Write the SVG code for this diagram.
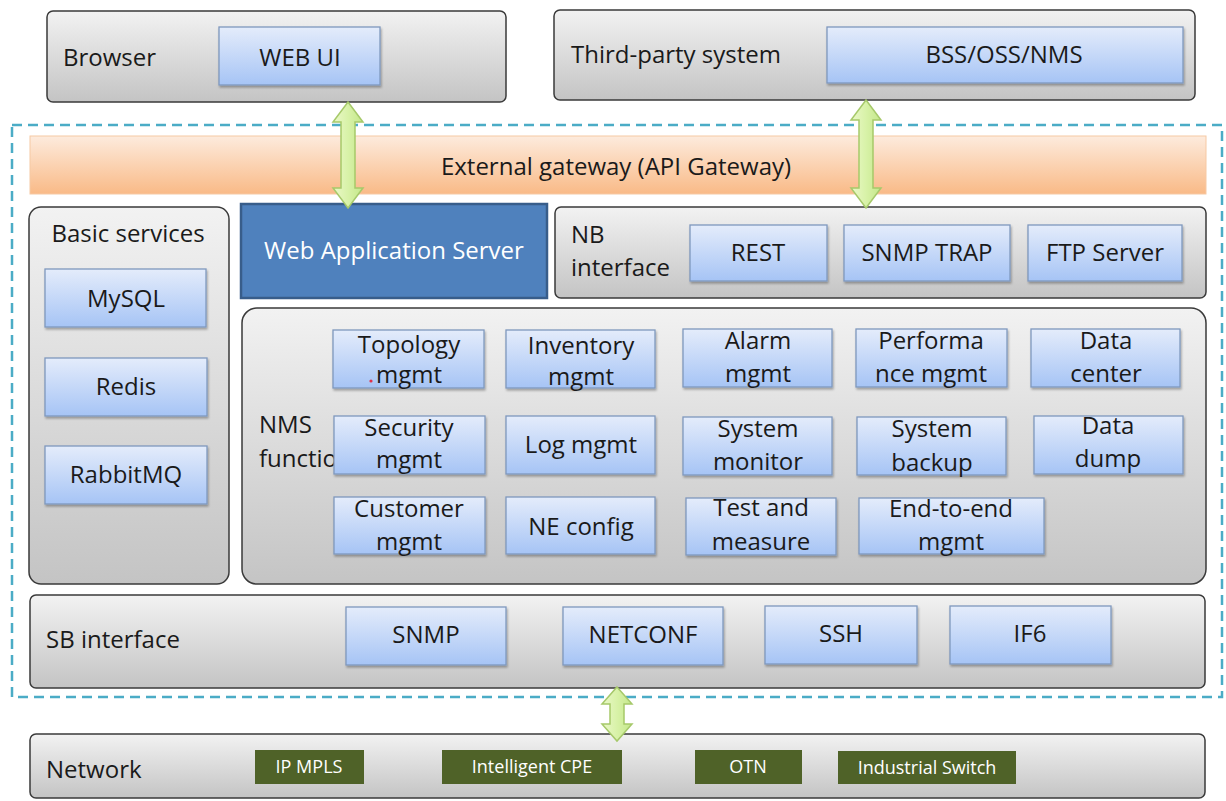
<svg xmlns="http://www.w3.org/2000/svg" width="1226" height="801" viewBox="0 0 1226 801">
<defs>
<linearGradient id="gGray" x1="0" y1="0" x2="0" y2="1"><stop offset="0" stop-color="#F2F2F2"/><stop offset="1" stop-color="#C4C4C4"/></linearGradient>
<linearGradient id="gBlue" x1="0" y1="0" x2="0" y2="1"><stop offset="0" stop-color="#E4ECFB"/><stop offset="1" stop-color="#A6C4F5"/></linearGradient>
<linearGradient id="gOrange" x1="0" y1="0" x2="0" y2="1"><stop offset="0" stop-color="#FDEBDD"/><stop offset="1" stop-color="#F9BA87"/></linearGradient>
<linearGradient id="gGreen" x1="0" y1="0" x2="1" y2="0"><stop offset="0" stop-color="#EAF8C8"/><stop offset="0.5" stop-color="#D8F2A8"/><stop offset="1" stop-color="#C4E78A"/></linearGradient>
<filter id="sh" x="-10%" y="-10%" width="130%" height="140%"><feDropShadow dx="1" dy="2" stdDeviation="1.2" flood-color="#000" flood-opacity="0.3"/></filter>
</defs>
<style>
text{font-family:"Open Sans",Lato,"Liberation Sans",sans-serif;fill:#1a1a1a;font-size:24px}
.c{text-anchor:middle}
.cont{fill:url(#gGray);stroke:#3a3a3a;stroke-width:1.5}
.blue{fill:url(#gBlue);stroke:#7F98BE;stroke-width:1.3;filter:url(#sh)}
.dg{fill:#4F6228}
.dgt{fill:#fff;font-size:18px;text-anchor:middle}
.arr{fill:url(#gGreen);stroke:#A6C96A;stroke-width:1.5}
</style>
<rect x="12" y="125" width="1210" height="572" fill="none" stroke="#4BACC6" stroke-width="2.5" stroke-dasharray="10 6"/>

<g id="browser">
<rect class="cont" x="47" y="11" width="459" height="91" rx="6"/>
<text x="63" y="66">Browser</text>
</g>
<g id="webui">
<rect class="blue" x="219" y="27" width="161" height="58"/>
<text class="c" x="300" y="66">WEB UI</text>
</g>
<g id="thirdparty">
<rect class="cont" x="554" y="10" width="641" height="90" rx="6"/>
<text x="571" y="63">Third-party system</text>
</g>
<g id="bss">
<rect class="blue" x="827" y="27" width="356" height="56"/>
<text class="c" x="1004" y="63">BSS/OSS/NMS</text>
</g>
<g id="gateway">
<rect x="30" y="136" width="1176" height="58" fill="url(#gOrange)" stroke="#F6C9A4" stroke-width="1"/>
<text class="c" x="616" y="175">External gateway (API Gateway)</text>
</g>

<g id="basic">
<rect class="cont" x="29" y="207" width="200" height="377" rx="12"/>
<text class="c" x="128" y="242">Basic services</text>
</g>
<g id="mysql"><rect class="blue" x="45" y="269" width="161" height="58"/><text class="c" x="126" y="307">MySQL</text></g>
<g id="redis"><rect class="blue" x="45" y="358" width="162" height="58"/><text class="c" x="126" y="395">Redis</text></g>
<g id="rabbitmq"><rect class="blue" x="45" y="446" width="162" height="58"/><text class="c" x="126" y="483">RabbitMQ</text></g>

<g id="webapp">
<rect x="241" y="204" width="306" height="94" fill="#4F81BD" stroke="#385D8A" stroke-width="2.5"/>
<text class="c" x="394" y="259" style="fill:#fff">Web Application Server</text>
</g>

<g id="nb">
<rect class="cont" x="555" y="207" width="651" height="91" rx="6"/>
<text x="571" y="243">NB</text>
<text x="571" y="276">interface</text>
</g>
<g id="rest"><rect class="blue" x="690" y="225" width="137" height="56"/><text class="c" x="758" y="261">REST</text></g>
<g id="snmptrap"><rect class="blue" x="844" y="225" width="166" height="56"/><text class="c" x="927" y="261">SNMP TRAP</text></g>
<g id="ftp"><rect class="blue" x="1028" y="225" width="154" height="56"/><text class="c" x="1105" y="261">FTP Server</text></g>

<g id="nms">
<rect class="cont" x="242" y="308" width="964" height="276" rx="15"/>
<text x="259" y="433">NMS</text>
<text x="259" y="467">function</text>
</g>
<g id="topology"><rect class="blue" x="333" y="330" width="151" height="58"/><text class="c" x="409" y="353">Topology</text><text class="c" x="409" y="383">mgmt</text><circle cx="371" cy="381" r="1.6" fill="#E0304A"/></g>
<g id="inventory"><rect class="blue" x="506" y="330" width="149" height="58"/><text class="c" x="581" y="354">Inventory</text><text class="c" x="581" y="385">mgmt</text></g>
<g id="alarm"><rect class="blue" x="683" y="329" width="149" height="58"/><text class="c" x="758" y="349">Alarm</text><text class="c" x="758" y="382">mgmt</text></g>
<g id="performance"><rect class="blue" x="856" y="329" width="151" height="58"/><text class="c" x="931" y="349">Performa</text><text class="c" x="931" y="382">nce mgmt</text></g>
<g id="datacenter"><rect class="blue" x="1031" y="329" width="149" height="58"/><text class="c" x="1106" y="349">Data</text><text class="c" x="1106" y="382">center</text></g>

<g id="security"><rect class="blue" x="334" y="416" width="151" height="58"/><text class="c" x="409" y="436">Security</text><text class="c" x="409" y="468">mgmt</text></g>
<g id="log"><rect class="blue" x="506" y="416" width="149" height="58"/><text class="c" x="581" y="453">Log mgmt</text></g>
<g id="sysmon"><rect class="blue" x="683" y="417" width="149" height="58"/><text class="c" x="758" y="437">System</text><text class="c" x="758" y="470">monitor</text></g>
<g id="backup"><rect class="blue" x="857" y="417" width="149" height="58"/><text class="c" x="932" y="437">System</text><text class="c" x="932" y="471">backup</text></g>
<g id="datadump"><rect class="blue" x="1034" y="416" width="149" height="58"/><text class="c" x="1108" y="434">Data</text><text class="c" x="1108" y="467">dump</text></g>

<g id="customer"><rect class="blue" x="334" y="497" width="151" height="57"/><text class="c" x="409" y="517">Customer</text><text class="c" x="409" y="550">mgmt</text></g>
<g id="neconfig"><rect class="blue" x="506" y="497" width="149" height="57"/><text class="c" x="581" y="535">NE config</text></g>
<g id="test"><rect class="blue" x="686" y="498" width="150" height="57"/><text class="c" x="761" y="516">Test and</text><text class="c" x="761" y="550">measure</text></g>
<g id="e2e"><rect class="blue" x="859" y="498" width="185" height="56"/><text class="c" x="951" y="517">End-to-end</text><text class="c" x="951" y="550">mgmt</text></g>

<g id="sb">
<rect class="cont" x="30" y="595" width="1175" height="93" rx="6"/>
<text x="46" y="648">SB interface</text>
</g>
<g id="snmp"><rect class="blue" x="346" y="607" width="160" height="58"/><text class="c" x="426" y="643">SNMP</text></g>
<g id="netconf"><rect class="blue" x="563" y="607" width="160" height="58"/><text class="c" x="643" y="643">NETCONF</text></g>
<g id="ssh"><rect class="blue" x="765" y="606" width="152" height="58"/><text class="c" x="841" y="642">SSH</text></g>
<g id="if6"><rect class="blue" x="950" y="606" width="161" height="58"/><text class="c" x="1030" y="642">IF6</text></g>

<g id="network">
<rect class="cont" x="30" y="734" width="1175" height="64" rx="6"/>
<text x="46" y="778">Network</text>
</g>
<g id="ipmpls"><rect class="dg" x="255" y="750" width="109" height="34"/><text class="dgt" x="309" y="773">IP MPLS</text></g>
<g id="cpe"><rect class="dg" x="442" y="750" width="180" height="34"/><text class="dgt" x="532" y="773">Intelligent CPE</text></g>
<g id="otn"><rect class="dg" x="695" y="750" width="107" height="34"/><text class="dgt" x="748" y="773">OTN</text></g>
<g id="switch"><rect class="dg" x="838" y="751" width="178" height="33"/><text class="dgt" x="927" y="774">Industrial Switch</text></g>

<g id="connectors">
<polygon class="arr" points="348,102 363,122 355,122 355,188 363,188 348,208 333,188 341,188 341,122 333,122"/>
<polygon class="arr" points="866,100 881,120 873,120 873,188 881,188 866,208 851,188 859,188 859,120 851,120"/>
<polygon class="arr" points="617,687 632,704 624,704 624,724 632,724 617,741 602,724 610,724 610,704 602,704"/>
</g>
</svg>
